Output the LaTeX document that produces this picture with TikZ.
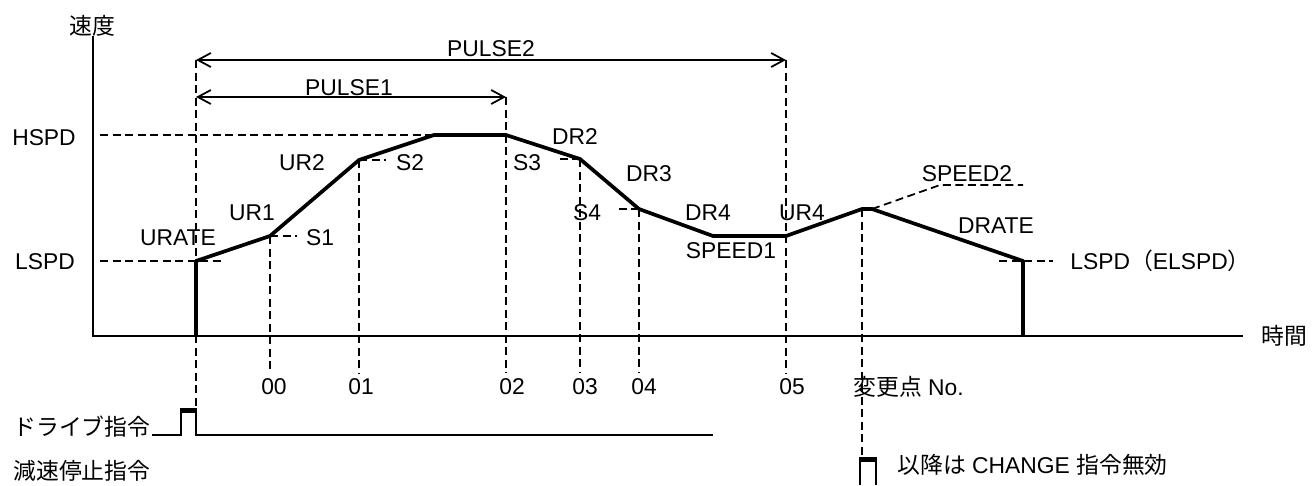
\documentclass[tikz,border=0pt]{standalone}
\usepackage{fontspec}
\setmainfont{Liberation Sans}
\newfontfamily\jp{Noto Sans CJK JP}
\usetikzlibrary{arrows.meta, positioning}

\begin{document}
\begin{tikzpicture}[x=0.2mm,y=-0.2mm, lb/.style={inner sep=0pt,font=\fontsize{13}{15}\selectfont}, ax/.style={line width=1.1pt}, prf/.style={line width=2.1pt,line join=round}, dsh/.style={line width=1pt,dash pattern=on 1.6mm off 0.9mm}, sig/.style={line width=1pt}, arr/.style={{Straight Barb[length=2.6mm,width=2.8mm]}-{Straight Barb[length=2.6mm,width=2.8mm]},line width=1pt}]
  \useasboundingbox (0,0) rectangle (1315,485);
  % axes
  \coordinate (o) at (93,336);
  \coordinate (ytop) at (93,36);
  \coordinate (xend) at (1243,336);
  \draw[ax] (ytop) -- (o) -- (xend);
  \node[lb] (vel) at (92,26) {\jp 速度};
  \node[lb] (tim) at (1284,336) {\jp 時間};
  \node[lb] (hspd) at (44,138) {HSPD};
  \node[lb] (lspd) at (45,262) {LSPD};
  % speed profile
  \coordinate (s0) at (196,336);
  \coordinate (p0) at (196,261);
  \coordinate (p1) at (270,236);
  \coordinate (p2) at (359,160);
  \coordinate (p3) at (434,135);
  \coordinate (p4) at (506,135);
  \coordinate (p5) at (580,159);
  \coordinate (p6) at (639,209);
  \coordinate (p7) at (713,236);
  \coordinate (p8) at (786,236);
  \coordinate (p9) at (862,209);
  \coordinate (p10) at (872,209);
  \coordinate (p11) at (1023,261);
  \coordinate (s1) at (1023,336);
  \draw[prf] (s0) -- (p0) -- (p1) -- (p2) -- (p3) -- (p4) -- (p5) -- (p6) -- (p7) -- (p8) -- (p9) -- (p10) -- (p11) -- (s1);
  % guide lines
  \draw[dsh] (100,135) -- (p3);
  \draw[dsh] (100,261) -- (222,261);
  \draw[dsh] (196,60) -- (196,409);
  \draw[dsh] (506,97) -- (506,373);
  \draw[dsh] (786,60) -- (786,373);
  \foreach \p in {p1,p2,p5,p6}{\draw[dsh] (\p) -- (\p |- 0,373);}
  \draw[dsh] (p9) -- (p9 |- 0,458);
  \draw[dsh] (p1) -- ++(27,0);
  \draw[dsh] (p2) -- ++(27,0);
  \draw[dsh] (p5) -- ++(-23,0);
  \draw[dsh] (p6) -- ++(-24,0);
  \draw[dsh] (p10) -- (940,185) -- (1023,185);
  \draw[dsh] (999,261) -- (1053,261);
  % pulse arrows
  \coordinate (a0) at (196,60);
  \coordinate (a1) at (786,60);
  \coordinate (b0) at (196,97);
  \coordinate (b1) at (506,97);
  \draw[arr] (a0) -- (a1);
  \draw[arr] (b0) -- (b1);
  \node[lb] (pl2) at (491,49) {PULSE2};
  \node[lb] (pl1) at (349,88) {PULSE1};
  % rate / speed labels
  \node[lb] (urate) at (178,238) {URATE};
  \node[lb] (ur1) at (252,213) {UR1};
  \node[lb] (ur2) at (302,163) {UR2};
  \node[lb] (s1l) at (320,238) {S1};
  \node[lb] (s2l) at (410,163) {S2};
  \node[lb] (s3l) at (527,163) {S3};
  \node[lb] (dr2) at (575,137) {DR2};
  \node[lb] (dr3) at (649,174) {DR3};
  \node[lb] (s4l) at (587,213) {S4};
  \node[lb] (dr4) at (708,213) {DR4};
  \node[lb] (ur4) at (802,213) {UR4};
  \node[lb] (sp1) at (731,251) {SPEED1};
  \node[lb] (sp2) at (967,174) {SPEED2};
  \node[lb] (drate) at (996,226) {DRATE};
  \node[lb,anchor=west] (elspd) at (1070,261) {LSPD{\jp （}ELSPD{\jp ）}};
  % change point numbers
  \node[lb] (n0) at (274,387) {00};
  \node[lb] (n1) at (361,387) {01};
  \node[lb] (n2) at (512,387) {02};
  \node[lb] (n3) at (585,387) {03};
  \node[lb] (n4) at (644,387) {04};
  \node[lb] (n5) at (792,387) {05};
  \node[lb,anchor=west] (nno) at (853,387) {{\jp 変更点} No.};
  % command signals
  \node[lb,anchor=west] (drv) at (13,427) {\jp ドライブ指令};
  \node[lb,anchor=west] (dec) at (13,471) {\jp 減速停止指令};
  \coordinate (d0) at (152,435);
  \draw[sig] (d0) -- ++(29,0) -- ++(0,-26) -- ++(15,0) -- ++(0,26) -- (713,435);
  \fill (181,409) rectangle (196,413);
  \coordinate (c0) at (860,485);
  \draw[sig] (c0) -- ++(0,-27) -- ++(16,0) -- ++(0,27);
  \fill (860,458) rectangle (876,462);
  \node[lb,anchor=west] (chg) at (897,465) {{\jp 以降は} CHANGE {\jp 指令無効}};
\end{tikzpicture}
\end{document}
